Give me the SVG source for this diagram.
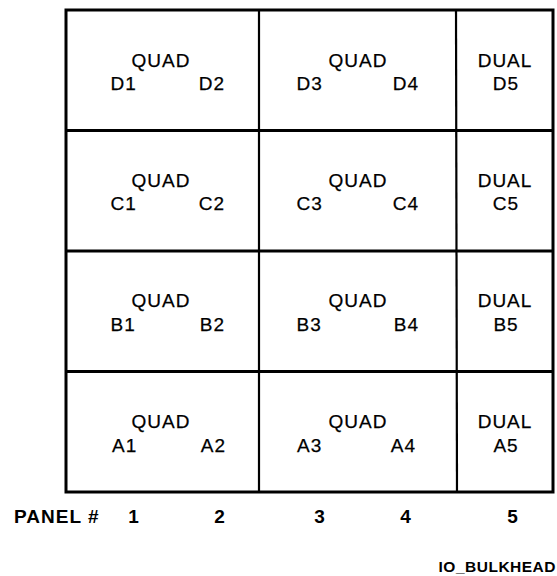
<svg xmlns="http://www.w3.org/2000/svg" width="557" height="576" viewBox="0 0 557 576">
<style>
.t{font-family:"Liberation Sans",Arial,sans-serif;font-size:19px;fill:#000;stroke:#000;stroke-width:0.25;letter-spacing:1px}
.m{text-anchor:middle}
.e{text-anchor:end}
.b{font-weight:bold;stroke-width:0}
.s{font-size:15.5px;letter-spacing:0.5px}
.ln{stroke:#000;stroke-width:2.2;fill:none}
.ob{stroke:#000;stroke-width:3;fill:#fff}
</style>
<rect x="0" y="0" width="557" height="576" fill="#fff"/>
<rect class="ob" x="66" y="10" width="487" height="482"/>
<g id="connectors">
<line class="ln" x1="259" y1="10" x2="259" y2="492"/>
<line class="ln" x1="456" y1="10" x2="457" y2="492"/>
<line class="ln" x1="66" y1="130.5" x2="553" y2="130.5" style="stroke-width:2.8"/>
<line class="ln" x1="66" y1="251" x2="553" y2="251" style="stroke-width:2.8"/>
<line class="ln" x1="66" y1="371.5" x2="553" y2="371.5" style="stroke-width:2.8"/>
</g>
<g id="D1D2"><text class="t m" x="161" y="66.5">QUAD</text><text class="t" x="110.5" y="89.5">D1</text><text class="t e" x="225" y="89.5">D2</text></g>
<g id="D3D4"><text class="t m" x="358" y="66.5">QUAD</text><text class="t" x="296.5" y="89.5">D3</text><text class="t e" x="419" y="89.5">D4</text></g>
<g id="D5"><text class="t m" x="505" y="66.5">DUAL</text><text class="t m" x="506" y="89.5">D5</text></g>
<g id="C1C2"><text class="t m" x="161" y="186.5">QUAD</text><text class="t" x="110.5" y="210">C1</text><text class="t e" x="225" y="210">C2</text></g>
<g id="C3C4"><text class="t m" x="358" y="186.5">QUAD</text><text class="t" x="296.5" y="210">C3</text><text class="t e" x="419" y="210">C4</text></g>
<g id="C5"><text class="t m" x="505" y="186.5">DUAL</text><text class="t m" x="506" y="210">C5</text></g>
<g id="B1B2"><text class="t m" x="161" y="307">QUAD</text><text class="t" x="110.5" y="331">B1</text><text class="t e" x="225" y="331">B2</text></g>
<g id="B3B4"><text class="t m" x="358" y="307">QUAD</text><text class="t" x="296.5" y="331">B3</text><text class="t e" x="419" y="331">B4</text></g>
<g id="B5"><text class="t m" x="505" y="307">DUAL</text><text class="t m" x="506" y="331">B5</text></g>
<g id="A1A2"><text class="t m" x="161" y="427.5">QUAD</text><text class="t" x="112" y="451.5">A1</text><text class="t e" x="226" y="451.5">A2</text></g>
<g id="A3A4"><text class="t m" x="358" y="427.5">QUAD</text><text class="t" x="297" y="451.5">A3</text><text class="t e" x="416" y="451.5">A4</text></g>
<g id="A5"><text class="t m" x="505" y="427.5">DUAL</text><text class="t m" x="506" y="451.5">A5</text></g>
<g id="panel">
<text class="t b" x="14" y="523">PANEL #</text>
<text class="t b m" x="134" y="523">1</text>
<text class="t b m" x="220" y="523">2</text>
<text class="t b m" x="320" y="523">3</text>
<text class="t b m" x="406" y="523">4</text>
<text class="t b m" x="513" y="523">5</text>
</g>
<g id="caption"><text class="t b s e" x="556" y="572">IO_BULKHEAD</text></g>
</svg>
